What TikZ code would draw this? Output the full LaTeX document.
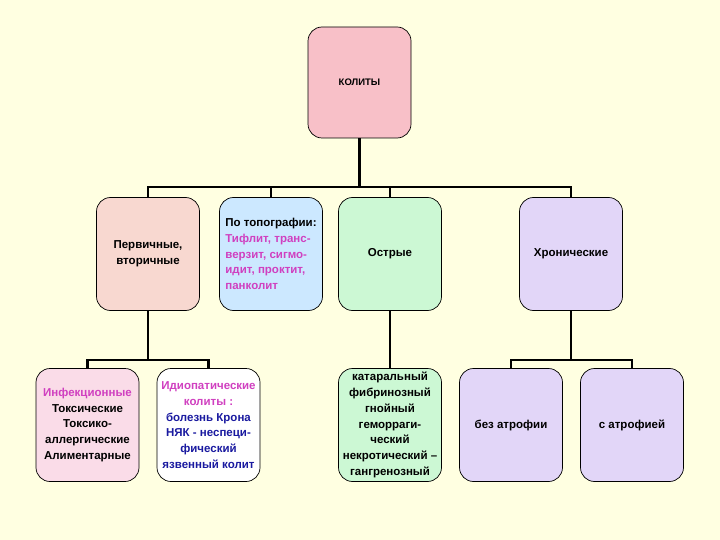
\documentclass[tikz,border=0pt]{standalone}
\usepackage{fontspec}
\setmainfont{Liberation Sans}
\definecolor{bg}{HTML}{FFFFE1}
\definecolor{cpink}{HTML}{F8C0C8}
\definecolor{cpeach}{HTML}{F8D8D0}
\definecolor{cpink2}{HTML}{FADCE8}
\definecolor{cblue}{HTML}{CCE8FF}
\definecolor{cgreen}{HTML}{CCF8D4}
\definecolor{clav}{HTML}{E2D6F8}
\definecolor{tmag}{HTML}{D040C0}
\definecolor{tblue}{HTML}{1A1AA0}
\begin{document}
\begin{tikzpicture}[x=1pt,y=-1pt,
  box/.style={draw=black,line width=0.7pt,rounded corners=14pt,minimum width=103pt,minimum height=113pt,inner sep=0pt,align=center,font=\fontsize{11.5}{15.8}\selectfont\bfseries},
  conn/.style={line width=2.5pt}]
\fill[bg] (0,0) rectangle (720,540);
\useasboundingbox (0,0) rectangle (720,540);
\node[box,fill=cpink,minimum height=111pt,font=\fontsize{9.5}{11}\selectfont\bfseries] (top) at (359.5,82.5) {КОЛИТЫ};
\node[box,fill=cpeach] (a) at (148,254) {Первичные,\\вторичные};
\node[box,fill=cblue,align=left] (b) at (271,254) {По топографии:\\\textcolor{tmag}{Тифлит, транс-}\\\textcolor{tmag}{верзит, сигмо-}\\\textcolor{tmag}{идит, проктит,}\\\textcolor{tmag}{панколит}};
\node[box,fill=cgreen] (c) at (390,254) {Острые};
\node[box,fill=clav] (d) at (571,254) {Хронические};
\node[box,fill=cpink2] (e) at (87.5,425) {\textcolor{tmag}{Инфекционные}\\Токсические\\Токсико-\\аллергические\\Алиментарные};
\node[box,fill=white] (f) at (208.5,425) {\textcolor{tmag}{Идиопатические}\\\textcolor{tmag}{колиты :}\\\textcolor{tblue}{болезнь Крона}\\\textcolor{tblue}{НЯК - неспеци-}\\\textcolor{tblue}{фический}\\\textcolor{tblue}{язвенный колит}};
\node[box,fill=cgreen] (g) at (390,425) {катаральный\\фибринозный\\гнойный\\геморраги-\\ческий\\некротический –\\гангренозный};
\node[box,fill=clav] (h) at (511,425) {без атрофии};
\node[box,fill=clav] (i) at (632,425) {с атрофией};
\coordinate (bus) at (359.5,187);
\draw[conn] (top.south) -- (bus);
\draw[conn] (a.north) |- (bus) -| (d.north);
\draw[conn] (b.north) -- (b.north |- bus);
\draw[conn] (c.north) -- (c.north |- bus);
\draw[conn] (a.south) |- (148,360) -| (e.north);
\draw[conn] (148,360) -| (f.north);
\draw[conn] (c.south) -- (g.north);
\draw[conn] (d.south) |- (571,360) -| (h.north);
\draw[conn] (571,360) -| (i.north);
\end{tikzpicture}
\end{document}
